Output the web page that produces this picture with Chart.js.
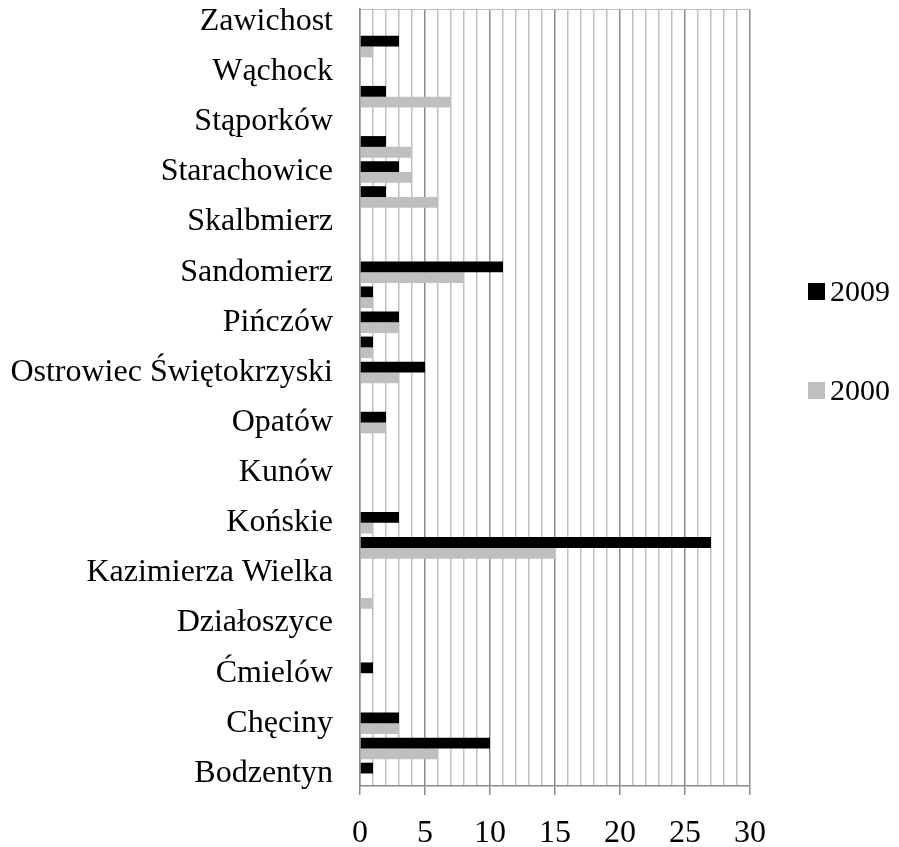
<!DOCTYPE html>
<html>
<head>
<meta charset="utf-8">
<script src="https://cdn.jsdelivr.net/npm/chart.js@4.4.1/dist/chart.umd.min.js"></script>
<style>
  html, body { margin: 0; padding: 0; background: #fff; }
  #wrap { position: relative; width: 899px; height: 847px; }
  #legend { position: absolute; left: 808px; top: 0; font-family: "Liberation Serif", serif; font-size: 30px; color: #000; }
  .item { position: absolute; left: 0; display: flex; align-items: center; height: 34px; white-space: nowrap; }
  .box { width: 17px; height: 17px; margin-right: 5px; }
</style>
</head>
<body>
<div id="wrap">
  <canvas id="chart" width="899" height="847"></canvas>
  <div id="legend"></div>
</div>
<script>
// rows top to bottom; unlabeled rows have no visible name in the original
const towns = [
  'Zawichost', '', 'Wąchock', '', 'Stąporków', '', 'Starachowice', '',
  'Skalbmierz', '', 'Sandomierz', '', 'Pińczów', '', 'Ostrowiec Świętokrzyski', '',
  'Opatów', '', 'Kunów', '', 'Końskie', '', 'Kazimierza Wielka', '',
  'Działoszyce', '', 'Ćmielów', '', 'Chęciny', '', 'Bodzentyn'
];
const values2009 = [0, 3, 0, 2, 0, 2, 3, 2, 0, 0, 11, 1, 3, 1, 5, 0, 2, 0, 0, 0, 3, 27, 0, 0, 0, 0, 1, 0, 3, 10, 1];
const values2000 = [0, 1, 0, 7, 0, 4, 4, 6, 0, 0, 8, 1, 3, 1, 3, 0, 2, 0, 0, 0, 1, 15, 0, 1, 0, 0, 0, 0, 3, 6, 0];
const seriesNames = ['2009', '2000'];
const seriesColors = ['#000000', '#bfbfbf'];
const xMin = 0, xMax = 30, xStep = 1, xLabelEvery = 5;

const font = { family: 'Liberation Serif', size: 32 };

const ctx = document.getElementById('chart').getContext('2d');
const chart = new Chart(ctx, {
  type: 'bar',
  data: {
    labels: towns,
    datasets: [
      { label: seriesNames[0], data: values2009, backgroundColor: seriesColors[0] },
      { label: seriesNames[1], data: values2000, backgroundColor: seriesColors[1] }
    ]
  },
  options: {
    indexAxis: 'y',
    responsive: false,
    animation: false,
    categoryPercentage: 0.86,
    barPercentage: 1,
    layout: { padding: { top: 9, right: 149, left: 0, bottom: 0 } },
    plugins: { legend: { display: false }, tooltip: { enabled: false } },
    scales: {
      x: {
        min: xMin,
        max: xMax,
        ticks: {
          stepSize: xStep,
          autoSkip: false,
          maxRotation: 0,
          padding: 19,
          color: '#000',
          font: font,
          callback: v => (v % xLabelEvery === 0 ? v : '')
        },
        grid: {
          color: c => (c.tick && c.tick.value % xLabelEvery === 0 ? '#8c8c8c' : '#c0c0c0'),
          tickColor: c => (c.tick && c.tick.value % xLabelEvery === 0 ? '#8c8c8c' : 'transparent'),
          tickLength: 9,
          lineWidth: 1.5
        },
        border: { color: '#8c8c8c', width: 1.5 },
        afterFit: s => { s.height = 61; }
      },
      y: {
        ticks: { autoSkip: false, padding: 27, color: '#000', font: font },
        grid: {
          offset: true,
          drawTicks: false,
          color: c => (c.index === 0 ? '#c0c0c0' : 'transparent')
        },
        border: { color: '#8c8c8c', width: 1.5 },
        afterFit: s => { s.width = 360; s.paddingTop = 0; s.paddingBottom = 0; }
      }
    }
  }
});

// legend at the right, built from the datasets
const legend = document.getElementById('legend');
chart.data.datasets.forEach((ds, i) => {
  const item = document.createElement('div');
  item.className = 'item';
  item.style.top = (274 + i * 99) + 'px';
  const box = document.createElement('span');
  box.className = 'box';
  box.style.background = ds.backgroundColor;
  const txt = document.createElement('span');
  txt.textContent = ds.label;
  item.appendChild(box);
  item.appendChild(txt);
  legend.appendChild(item);
});
</script>
</body>
</html>
